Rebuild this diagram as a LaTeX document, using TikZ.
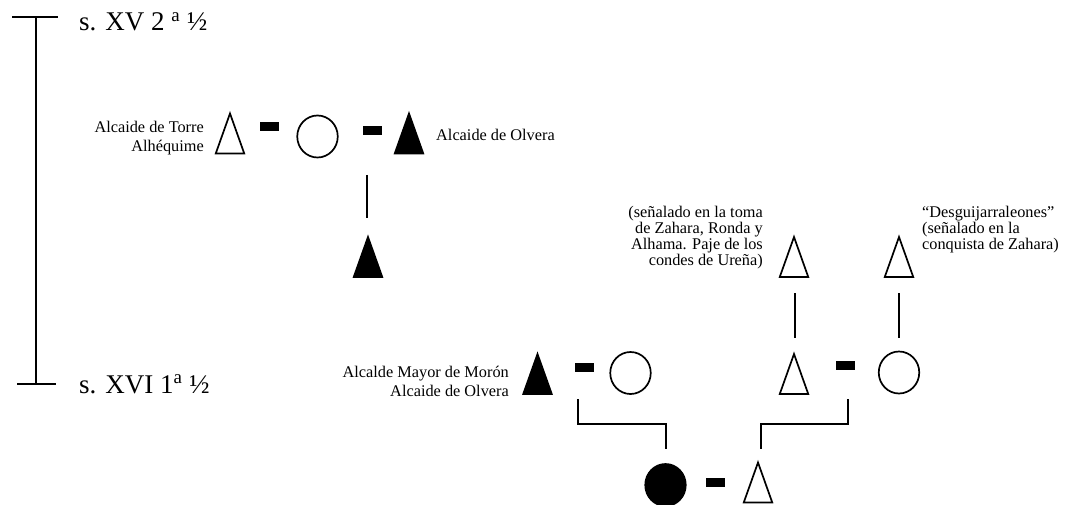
\documentclass[tikz,border=0pt]{standalone}
\usepackage{fontspec}
\setmainfont{Liberation Serif}
\usetikzlibrary{shapes.geometric}
\begin{document}
\begin{tikzpicture}[x=1pt,y=-1pt,
  tri/.style={shape=rectangle, minimum width=28.5pt, minimum height=40pt,
    inner sep=0pt, outer sep=0pt,
    append after command={\pgfextra{\draw[line width=1.7pt, line join=miter, fill=#1]
      (\tikzlastnode.south west) -- (\tikzlastnode.south east) --
      (\tikzlastnode.north) -- cycle;}}},
  tri/.default=white,
  trif/.style={tri=black},
  circ/.style={draw, ellipse, line width=1.7pt, minimum width=40.5pt,
    minimum height=42pt, inner sep=0pt},
  circf/.style={circ, fill=black},
  bar/.style={fill=black, minimum width=19pt, minimum height=9pt, inner sep=0pt},
  link/.style={line width=1.6pt},
  tline/.style={line width=1.5pt},
  lbl/.style={font=\fontsize{16.3}{19.5}\selectfont, inner sep=0pt},
  lbltight/.style={font=\fontsize{16.3}{16}\selectfont, inner sep=0pt},
  era/.style={font=\fontsize{27}{30}\selectfont, inner sep=0pt, anchor=base west}]
\useasboundingbox (0,0) rectangle (1068,505);

% timeline
\coordinate (tt) at (36,17);
\coordinate (tb) at (36,384);
\coordinate (ttl) at (12,17);
\coordinate (ttr) at (58,17);
\coordinate (tbl) at (17,384);
\coordinate (tbr) at (56,384);
\draw[tline] (tt) -- (tb);
\draw[tline] (ttl) -- (ttr);
\draw[tline] (tbl) -- (tbr);
\node[era] (e1) at (79,31) {s. XV 2 \textsuperscript{a} ½};
\node[era] (e2) at (79,393) {s. XVI 1\textsuperscript{a} ½};

% top generation
\node[tri] (T1) at (230,133.5) {};
\node[bar] (d1) at (269,126.5) {};
\node[circ] (C1) at (317.5,136.5) {};
\node[bar] (d2) at (372.5,131) {};
\node[trif] (T2) at (409,133.5) {};
\node[lbl, align=right, anchor=east] (l1) at (204,138) {Alcaide de Torre\\Alhéquime};
\node[lbl, anchor=west] (l2) at (436,135) {Alcaide de Olvera};
\coordinate (a1) at (367,175);
\coordinate (a2) at (367,218);
\draw[link] (a1) -- (a2);
\node[trif] (T3) at (368,257) {};

% right upper
\node[tri] (T4) at (794,257) {};
\node[tri] (T5) at (899,257) {};
\node[lbltight, align=right, anchor=east] (l3) at (763,238)
  {(señalado en la toma\\de Zahara, Ronda y\\Alhama. Paje de los\\condes de Ureña)};
\node[lbltight, align=left, anchor=west] (l4) at (922,230)
  {“Desguijarraleones”\\(señalado en la\\conquista de Zahara)};
\coordinate (b2a) at (795,293);
\coordinate (b2b) at (795,338);
\coordinate (b3a) at (899,293);
\coordinate (b3b) at (899,338);
\draw[link] (b2a) -- (b2b);
\draw[link] (b3a) -- (b3b);

% middle generation
\node[trif] (T6) at (537.5,374) {};
\node[lbl, align=right, anchor=east] (l5) at (509,381.5) {Alcalde Mayor de Morón\\Alcaide de Olvera};
\node[bar] (d3) at (584,367) {};
\node[circ] (C2) at (630.5,373) {};
\node[tri] (T7) at (794,374) {};
\node[bar] (d4) at (845.5,365.5) {};
\node[circ] (C3) at (899,372.5) {};

% brackets
\coordinate (k1s) at (578,399);
\coordinate (k1e) at (666,449);
\coordinate (k2s) at (848,399);
\coordinate (k2e) at (761,449);
\draw[link] (k1s) -- ++(0,25) -| (k1e);
\draw[link] (k2s) -- ++(0,25) -| (k2e);

% bottom generation
\node[circf] (C4) at (665.5,485) {};
\node[bar] (d5) at (715,482.5) {};
\node[tri] (T8) at (758,482.5) {};
\end{tikzpicture}
\end{document}
